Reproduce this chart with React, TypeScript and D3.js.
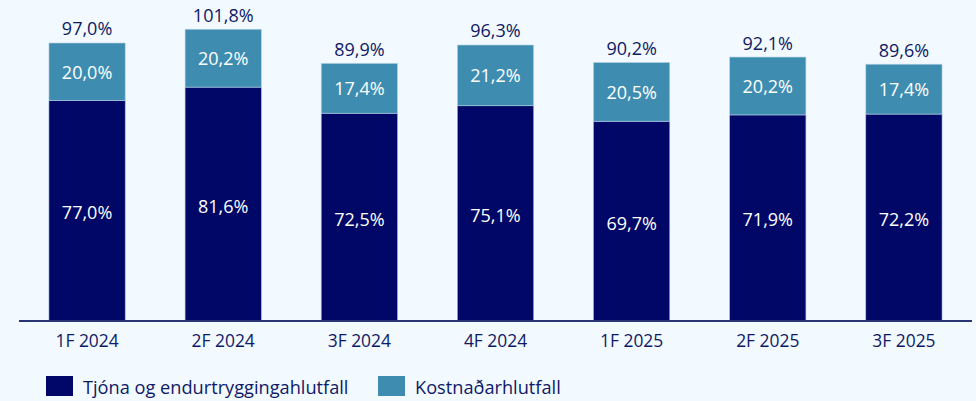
import React from "react";
import * as d3 from "d3";

const categories = ["1F 2024", "2F 2024", "3F 2024", "4F 2024", "1F 2025", "2F 2025", "3F 2025"];
const claimsRatio = [77.0, 81.6, 72.5, 75.1, 69.7, 71.9, 72.2];
const expenseRatio = [20.0, 20.2, 17.4, 21.2, 20.5, 20.2, 17.4];
const combinedRatio = [97.0, 101.8, 89.9, 96.3, 90.2, 92.1, 89.6];
const seriesNames = ["Tjóna og endurtryggingahlutfall", "Kostnaðarhlutfall"];

const W = 976;
const H = 401;
const NAVY = "#000766";
const TEAL = "#3E8DB1";
const TEXT = "#0F1A66";
const FONT = "'Open Sans', sans-serif";

const fmt = (v: number) => v.toFixed(1).replace(".", ",") + "%";

export default function App() {
  const x = d3.scaleBand<string>().domain(categories).range([19, 972]).paddingInner(0.44).paddingOuter(0.22);
  const y = d3.scaleLinear().domain([0, 112]).range([321, 0]);
  const bw = x.bandwidth();

  return (
    <svg width={W} height={H} style={{ position: "absolute", left: 0, top: 0, background: "#F2F9FF" }} fontFamily={FONT}>
      <rect x={0} y={0} width={W} height={H} fill="#F2F9FF" />
      {categories.map((c, i) => {
        const x0 = x(c)!;
        const cx = x0 + bw / 2;
        const yC = y(claimsRatio[i]);
        const yT = y(claimsRatio[i] + expenseRatio[i]);
        return (
          <g key={c}>
            <rect x={x0} y={yC} width={bw} height={y(0) - yC} fill={NAVY} stroke="#9fb6d6" strokeWidth={0.6} />
            <rect x={x0} y={yT} width={bw} height={yC - yT} fill={TEAL} stroke="#b8d4e6" strokeWidth={0.6} />
            <text x={cx} y={(yC + y(0)) / 2 + 1.5} fill="#ffffff" fontSize={18} textAnchor="middle" dominantBaseline="central">
              {fmt(claimsRatio[i])}
            </text>
            <text x={cx} y={(yC + yT) / 2} fill="#ffffff" fontSize={18} textAnchor="middle" dominantBaseline="central">
              {fmt(expenseRatio[i])}
            </text>
            <text x={cx} y={yT - 14.5} fill={TEXT} fontSize={18} textAnchor="middle" dominantBaseline="central">
              {fmt(combinedRatio[i])}
            </text>
            <text x={cx} y={340} fill={TEXT} fontSize={17.4} textAnchor="middle" dominantBaseline="central">
              {c}
            </text>
          </g>
        );
      })}
      <line x1={19} x2={972} y1={321} y2={321} stroke="#2A3577" strokeWidth={2} />
      <g>
        <rect x={46} y={376} width={27} height={20} fill={NAVY} />
        <text x={83} y={386.5} fill={TEXT} fontSize={18.2} dominantBaseline="central">{seriesNames[0]}</text>
        <rect x={378} y={376} width={27} height={20} fill={TEAL} />
        <text x={415} y={386.5} fill={TEXT} fontSize={18.2} dominantBaseline="central">{seriesNames[1]}</text>
      </g>
    </svg>
  );
}
